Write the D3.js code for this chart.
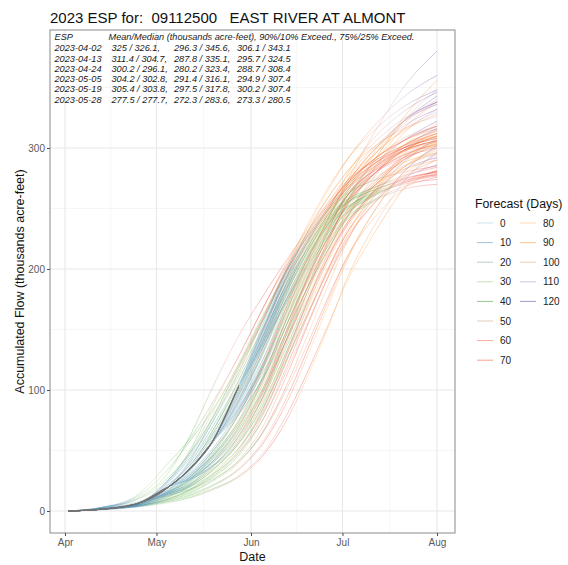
<!DOCTYPE html>
<html><head><meta charset="utf-8">
<script src="https://cdn.jsdelivr.net/npm/d3@7"></script>
<style>body{margin:0;background:#fff}svg{display:block;font-family:"Liberation Sans",Arial,Helvetica,sans-serif}</style>
</head><body><svg id="c" width="568" height="565"></svg>
<script>
// ---------------- data ----------------
const knotDates = ["2023-04-02","2023-04-13","2023-04-24","2023-05-05","2023-05-12","2023-05-19","2023-05-28",
  "2023-06-05","2023-06-12","2023-06-19","2023-06-26","2023-07-03","2023-07-12","2023-07-21","2023-08-01"];
// observed accumulated flow (first knots, up to last issue date)
const observed = [0, 1.5, 5.5, 20, 35, 56, 103];
const issueDates = ["2023-04-02","2023-04-13","2023-04-24","2023-05-05","2023-05-19","2023-05-28"];
const issueKnotIndex = [0, 1, 2, 3, 5, 6];

// ensemble traces: values at the knots after each issue date
const tracesApr02 = [
  [3, 12, 40, 60, 88, 128, 168, 202, 232, 258, 282, 306, 324, 338],
  [2.5, 9, 28, 48, 75, 115, 158, 196, 232, 264, 292, 320, 342, 360],
  [2, 7, 20, 34, 55, 92, 135, 172, 205, 240, 275, 315, 350, 380],
  [2, 6, 16, 28, 48, 82, 122, 165, 208, 246, 280, 310, 330, 346],
  [1.8, 5.5, 14, 24, 40, 70, 110, 155, 200, 240, 272, 300, 318, 332],
  [1.5, 5, 12, 20, 33, 58, 95, 138, 182, 222, 256, 286, 306, 322],
  [1.5, 4.5, 10, 17, 28, 48, 80, 120, 165, 208, 245, 278, 300, 316],
  [1.3, 4, 9, 15, 24, 40, 66, 100, 142, 185, 225, 262, 288, 308],
  [1.2, 3.5, 8, 13, 20, 34, 56, 86, 125, 168, 210, 250, 280, 302],
  [1, 3, 7, 11, 17, 28, 46, 72, 108, 150, 195, 238, 272, 296],
  [1.5, 5, 13, 22, 38, 65, 100, 138, 175, 210, 240, 265, 282, 292],
  [1.2, 4, 10, 18, 30, 52, 85, 125, 165, 200, 232, 258, 275, 286],
  [2, 6, 15, 26, 44, 75, 118, 160, 202, 240, 272, 300, 322, 343],
  [1.6, 5, 12, 21, 35, 62, 98, 142, 188, 230, 266, 298, 322, 338],
  [3, 10, 32, 62, 100, 145, 178, 205, 230, 252, 272, 292, 306, 318],
  [2.5, 9, 26, 50, 85, 128, 168, 200, 228, 254, 278, 302, 322, 336],
  [2.8, 11, 35, 58, 82, 120, 160, 198, 234, 266, 292, 316, 334, 348]
];
const tracesApr13 = [
  [6, 22, 40, 65, 105, 148, 190, 228, 258, 282, 302, 316, 326],
  [5, 16, 28, 46, 80, 122, 165, 205, 240, 270, 296, 315, 330],
  [4.5, 13, 22, 36, 62, 100, 145, 190, 230, 265, 296, 320, 338],
  [4, 11, 18, 29, 50, 84, 125, 170, 212, 250, 285, 312, 332],
  [4, 10, 16, 25, 42, 70, 108, 150, 192, 230, 266, 292, 310],
  [3.5, 9, 14, 21, 35, 58, 90, 130, 172, 212, 250, 280, 300],
  [3.5, 8, 12, 18, 29, 48, 76, 112, 152, 192, 232, 266, 292],
  [5, 14, 25, 40, 68, 105, 145, 182, 215, 245, 270, 290, 305],
  [4.5, 12, 20, 33, 56, 92, 135, 178, 220, 258, 292, 322, 348],
  [4, 10, 17, 27, 46, 76, 115, 158, 198, 235, 268, 295, 315],
  [5, 15, 27, 43, 72, 110, 150, 188, 220, 248, 270, 285, 295],
  [6, 20, 42, 75, 120, 160, 195, 225, 250, 272, 292, 306, 316],
  [5.5, 18, 36, 64, 108, 150, 188, 220, 248, 275, 300, 322, 340],
  [5, 17, 33, 58, 96, 140, 180, 215, 244, 270, 292, 308, 318]
];
const tracesApr24 = [
  [22, 38, 62, 100, 142, 182, 218, 246, 268, 286, 298, 306],
  [18, 30, 48, 80, 120, 162, 202, 236, 262, 285, 302, 315],
  [16, 25, 40, 66, 102, 145, 188, 225, 255, 280, 298, 310],
  [15, 22, 34, 56, 88, 128, 170, 208, 240, 266, 284, 296],
  [14, 20, 30, 48, 76, 112, 152, 192, 226, 256, 276, 290],
  [13, 18, 26, 41, 65, 97, 135, 175, 212, 244, 266, 282],
  [17, 28, 45, 74, 112, 155, 196, 232, 262, 290, 316, 338],
  [20, 34, 55, 90, 132, 172, 208, 236, 258, 276, 288, 296],
  [15, 23, 36, 60, 95, 138, 182, 222, 258, 292, 325, 356],
  [14, 21, 32, 52, 82, 120, 160, 198, 232, 262, 284, 300],
  [16, 26, 42, 70, 108, 150, 190, 224, 250, 270, 282, 290],
  [26, 48, 80, 122, 162, 196, 224, 248, 268, 285, 297, 305],
  [24, 44, 72, 112, 152, 190, 222, 250, 274, 296, 314, 328],
  [25, 46, 76, 118, 158, 194, 226, 252, 272, 290, 302, 312]
];
const tracesMay05 = [
  [38, 62, 102, 145, 185, 220, 248, 270, 288, 300, 308],
  [32, 50, 84, 125, 168, 206, 238, 262, 283, 298, 310],
  [30, 45, 75, 112, 154, 194, 228, 256, 280, 298, 312],
  [28, 42, 68, 102, 142, 182, 218, 248, 274, 292, 304],
  [27, 39, 62, 94, 132, 172, 208, 238, 264, 284, 298],
  [26, 36, 56, 86, 122, 160, 196, 228, 256, 278, 294],
  [34, 55, 92, 135, 176, 212, 242, 264, 282, 294, 302],
  [29, 44, 72, 108, 150, 190, 225, 254, 280, 302, 320],
  [27, 40, 64, 98, 138, 178, 214, 244, 270, 290, 306],
  [31, 48, 80, 120, 162, 200, 232, 258, 280, 295, 303],
  [26, 37, 58, 90, 128, 168, 205, 238, 266, 288, 304],
  [42, 72, 115, 158, 196, 228, 254, 274, 290, 302, 310],
  [40, 68, 108, 150, 190, 222, 250, 272, 292, 306, 316],
  [36, 60, 98, 140, 180, 215, 244, 268, 288, 302, 312]
];
const tracesMay19 = [
  [100, 145, 185, 220, 248, 270, 288, 300, 308],
  [92, 132, 172, 208, 238, 262, 284, 300, 312],
  [86, 122, 160, 198, 230, 258, 282, 298, 310],
  [82, 115, 150, 186, 218, 246, 272, 292, 306],
  [96, 138, 178, 212, 240, 262, 280, 292, 300],
  [88, 126, 165, 202, 234, 262, 288, 306, 318],
  [84, 118, 155, 192, 225, 254, 280, 297, 306],
  [90, 130, 170, 206, 236, 260, 280, 294, 303],
  [80, 110, 145, 182, 215, 245, 272, 290, 302],
  [94, 136, 176, 212, 242, 266, 286, 300, 309],
  [98, 142, 182, 216, 244, 266, 285, 298, 306],
  [85, 120, 158, 195, 228, 258, 284, 302, 314]
];
const tracesMay28 = [
  [150, 192, 222, 242, 256, 266, 273, 278],
  [145, 185, 215, 237, 252, 264, 272, 279],
  [140, 178, 208, 231, 248, 262, 272, 281],
  [155, 196, 225, 244, 258, 268, 275, 280],
  [138, 172, 202, 226, 244, 258, 268, 276],
  [148, 188, 218, 240, 256, 268, 277, 284],
  [142, 180, 210, 234, 251, 263, 270, 274],
  [152, 194, 226, 248, 263, 274, 280, 285],
  [136, 170, 200, 224, 242, 257, 266, 270],
  [146, 184, 214, 236, 252, 265, 274, 280],
  [144, 182, 212, 234, 250, 262, 271, 277],
  [150, 190, 220, 240, 255, 266, 274, 281],
  [139, 175, 205, 229, 247, 261, 271, 278]
];
const groupTraces = [tracesApr02, tracesApr13, tracesApr24, tracesMay05, tracesMay19, tracesMay28];

const forecastDays = [0, 10, 20, 30, 40, 50, 60, 70, 80, 90, 100, 110, 120];
const paletteColors = ["#a6cee3","#1f78b4","#b2df8a","#33a02c","#fb9a99","#e31a1c","#fdbf6f","#ff7f00","#cab2d6","#6a3d9a"];

const espHeader = ["ESP", "Mean/Median (thousands acre-feet), 90%/10% Exceed., 75%/25% Exceed."];
const espMeanMedian = ["325 / 326.1,", "311.4 / 304.7,", "300.2 / 296.1,", "304.2 / 302.8,", "305.4 / 303.8,", "277.5 / 277.7,"];
const espExceed9010 = ["296.3 / 345.6,", "287.8 / 335.1,", "280.2 / 323.4,", "291.4 / 316.1,", "297.5 / 317.8,", "272.3 / 283.6,"];
const espExceed7525 = ["306.1 / 343.1", "295.7 / 324.5", "288.7 / 308.4", "294.9 / 307.4", "300.2 / 307.4", "273.3 / 280.5"];

const yTicks = [0, 100, 200, 300];
const yMinor = [50, 150, 250, 350];
const xTickDates = ["2023-04-01","2023-05-01","2023-06-01","2023-07-01","2023-08-01"];
const xTickLabels = ["Apr","May","Jun","Jul","Aug"];
const xMinorDates = ["2023-04-16T00:00","2023-05-16T12:00","2023-06-16T00:00","2023-07-16T12:00"];

const titleText = "2023 ESP for:  09112500   EAST RIVER AT ALMONT";

// ---------------- drawing ----------------
const parse = d3.utcParse("%Y-%m-%d");
const parseT = d3.utcParse("%Y-%m-%dT%H:%M");
const svg = d3.select("#c");
const P = {l: 50, r: 455, t: 30, b: 533};

const x = d3.scaleUtc().domain([parse("2023-04-01"), parse("2023-08-01")]).range([65, 437]);
const y = d3.scaleLinear().domain([0, 300]).range([511, 148]);

const colorScale = d3.scaleLinear()
  .domain(paletteColors.map((c, i) => i * 120 / (paletteColors.length - 1)))
  .range(paletteColors).interpolate(d3.interpolateLab).clamp(true);

svg.append("rect").attr("width", 568).attr("height", 565).attr("fill", "#fff");
svg.append("rect").attr("x", P.l).attr("y", P.t).attr("width", P.r - P.l).attr("height", P.b - P.t).attr("fill", "#fff");

const grid = svg.append("g");
yMinor.forEach(v => grid.append("line").attr("x1", P.l).attr("x2", P.r).attr("y1", y(v)).attr("y2", y(v))
  .attr("stroke", "#f0f0f0").attr("stroke-width", 0.6));
xMinorDates.forEach(d => grid.append("line").attr("x1", x(parseT(d))).attr("x2", x(parseT(d))).attr("y1", P.t).attr("y2", P.b)
  .attr("stroke", "#f0f0f0").attr("stroke-width", 0.6));
yTicks.forEach(v => grid.append("line").attr("x1", P.l).attr("x2", P.r).attr("y1", y(v)).attr("y2", y(v))
  .attr("stroke", "#e8e8e8").attr("stroke-width", 1.1));
xTickDates.forEach(d => grid.append("line").attr("x1", x(parse(d))).attr("x2", x(parse(d))).attr("y1", P.t).attr("y2", P.b)
  .attr("stroke", "#e8e8e8").attr("stroke-width", 1.1));

// gradients: grey (observed) before the issue date, then colour by forecast day
const defs = svg.append("defs");
defs.append("clipPath").attr("id", "clip").append("rect")
  .attr("x", P.l).attr("y", P.t).attr("width", P.r - P.l).attr("height", P.b - P.t);
const kd = knotDates.map(parse);
const gx1 = x(kd[0]), gx2 = x(kd[kd.length - 1]);
const DAY = 864e5;
issueDates.forEach((iso, gi) => {
  const issue = parse(iso);
  const g = defs.append("linearGradient").attr("id", "grad" + gi).attr("gradientUnits", "userSpaceOnUse")
    .attr("x1", gx1).attr("x2", gx2).attr("y1", 0).attr("y2", 0);
  const off = t => Math.max(0, Math.min(1, (x(t) - gx1) / (gx2 - gx1)));
  g.append("stop").attr("offset", 0).attr("stop-color", "#707070");
  g.append("stop").attr("offset", off(issue)).attr("stop-color", "#707070");
  for (let d = 0; d <= 120; d += 4) {
    const t = new Date(issue.getTime() + d * DAY);
    if (t > kd[kd.length - 1]) break;
    g.append("stop").attr("offset", off(t)).attr("stop-color", colorScale(d));
  }
});

const line = d3.line().x(d => x(d.date)).y(d => y(d.value)).curve(d3.curveMonotoneX);
const plot = svg.append("g").attr("clip-path", "url(#clip)");
groupTraces.forEach((traces, gi) => {
  const ki = issueKnotIndex[gi];
  traces.forEach(tr => {
    const pts = [];
    for (let k = 0; k <= ki; k++) pts.push({date: kd[k], value: observed[k]});
    tr.forEach((v, j) => pts.push({date: kd[ki + 1 + j], value: v}));
    plot.append("path").attr("d", line(pts)).attr("fill", "none")
      .attr("stroke", "url(#grad" + gi + ")").attr("stroke-width", 0.75).attr("stroke-opacity", 0.42);
  });
});

// panel border
svg.append("rect").attr("x", P.l).attr("y", P.t).attr("width", P.r - P.l).attr("height", P.b - P.t)
  .attr("fill", "none").attr("stroke", "#8a8a8a").attr("stroke-width", 1);

// axes
const yAxis = svg.append("g").attr("transform", `translate(${P.l},0)`)
  .call(d3.axisLeft(y).tickValues(yTicks).tickSize(3).tickPadding(2).tickFormat(d3.format("d")));
const xAxis = svg.append("g").attr("transform", `translate(0,${P.b})`)
  .call(d3.axisBottom(x).tickValues(xTickDates.map(parse)).tickSize(3).tickPadding(3)
    .tickFormat((d, i) => xTickLabels[i]));
[yAxis, xAxis].forEach(a => {
  a.select(".domain").remove();
  a.selectAll(".tick line").attr("stroke", "#4d4d4d");
  a.selectAll(".tick text").attr("fill", "#5a5a5a").style("font-size", "10px")
    .style("font-family", '"Liberation Sans",Arial,sans-serif');
});

// titles
svg.append("text").attr("x", 50).attr("y", 22.5).attr("font-size", 15).attr("fill", "#111")
  .attr("xml:space", "preserve").style("white-space", "pre").text(titleText);
svg.append("text").attr("x", (P.l + P.r) / 2).attr("y", 561).attr("text-anchor", "middle")
  .attr("font-size", 12.5).attr("fill", "#111").text("Date");
svg.append("text").attr("transform", `translate(23.5,${(P.t + P.b) / 2}) rotate(-90)`).attr("text-anchor", "middle")
  .attr("font-size", 12.5).attr("fill", "#111").text("Accumulated Flow (thousands acre-feet)");

// ESP table
const tbl = svg.append("g").attr("font-style", "italic").attr("font-size", 9.2).attr("fill", "#1a1a1a");
tbl.append("text").attr("x", 54.5).attr("y", 39.5).text(espHeader[0]);
tbl.append("text").attr("x", 108.5).attr("y", 39.5).text(espHeader[1]);
issueDates.forEach((d, i) => {
  const yy = 51.3 + i * 10.25;
  tbl.append("text").attr("x", 54.5).attr("y", yy).text(d);
  tbl.append("text").attr("x", 111.5).attr("y", yy).text(espMeanMedian[i]);
  tbl.append("text").attr("x", 174).attr("y", yy).text(espExceed9010[i]);
  tbl.append("text").attr("x", 237).attr("y", yy).text(espExceed7525[i]);
});

// legend
const lg = svg.append("g");
lg.append("text").attr("x", 475).attr("y", 207.5).attr("font-size", 12.3).attr("fill", "#111").text("Forecast (Days)");
forecastDays.forEach((d, i) => {
  const col = i < 8 ? 0 : 1, row = i < 8 ? i : i - 8;
  const cy = 223 + row * 19.6;
  const kx = col === 0 ? 477 : 520;
  lg.append("line").attr("x1", kx).attr("x2", kx + 16).attr("y1", cy).attr("y2", cy)
    .attr("stroke", colorScale(d)).attr("stroke-width", 1).attr("stroke-opacity", 0.55);
  lg.append("text").attr("x", kx + 23).attr("y", cy + 3.6).attr("font-size", 10).attr("fill", "#222").text(d);
});
</script></body></html>
